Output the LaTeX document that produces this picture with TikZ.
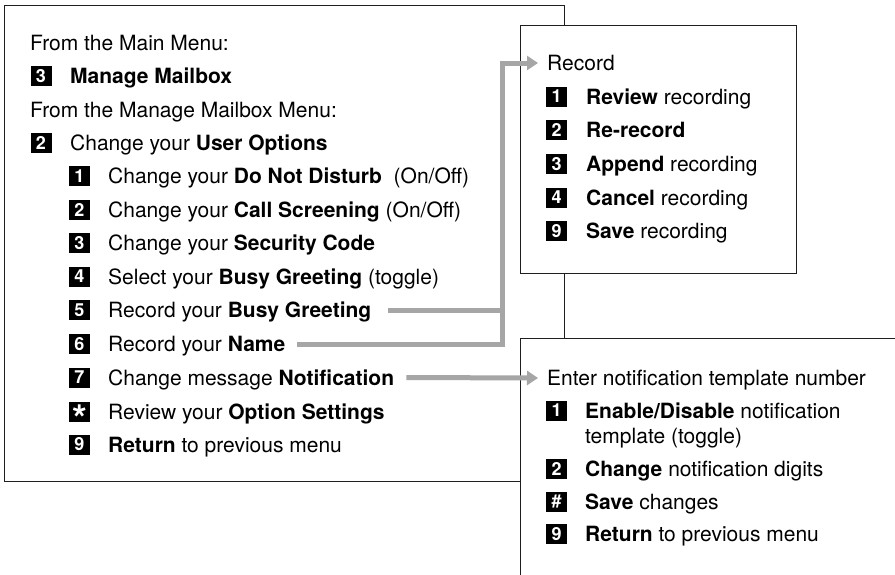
\documentclass[tikz,border=0pt]{standalone}
\usepackage{fontspec}
\setmainfont{TeX Gyre Heros}
\usetikzlibrary{arrows.meta}
\definecolor{conngray}{RGB}{166,166,166}
\definecolor{edge}{RGB}{30,30,30}
\begin{document}
\begin{tikzpicture}[x=1pt,y=-1pt,
  panel/.style={draw=edge, line width=1.3pt, fill=white, anchor=north west, inner sep=0pt},
  txt/.style={anchor=west, inner sep=0pt, text height=15pt, text depth=0pt, font=\fontsize{21}{24}\selectfont},
  key/.style={fill=black, text=white, minimum width=21pt, minimum height=20pt, inner sep=0pt, font=\fontsize{18}{18}\selectfont\bfseries},
  conn/.style={draw=conngray, line width=5pt, line join=miter},
  tip/.style={-{Triangle[length=11pt,width=14pt]}}
]
\useasboundingbox (0,0) rectangle (895,574);
\clip (0,0) rectangle (895,574);

% panels
\node[panel, minimum width=560pt, minimum height=476pt] (main) at (4,5) {};
\node[panel, minimum width=276pt, minimum height=248pt] (recbox) at (520,25) {};
\node[panel, minimum width=420pt, minimum height=300pt] (notbox) at (520,338) {};

% main menu
\node[txt] (h1) at (30,43) {From the Main Menu:};
\node[key] (k1) at (41,76) {3};
\node[txt] (mm) at (70,76) {\textbf{Manage Mailbox}};
\node[txt] (h2) at (30,109.5) {From the Manage Mailbox Menu:};
\node[key] (k2) at (41,142.5) {2};
\node[txt] (uo) at (70,142.5) {Change your \textbf{User Options}};

\node[key] (s1k) at (79.5,176) {1};
\node[txt] (m1) at (108,176) {Change your \textbf{Do Not Disturb}\ \ (On/Off)};
\node[key] (s2k) at (79.5,209.5) {2};
\node[txt] (m2) at (108,209.5) {Change your \textbf{Call Screening} (On/Off)};
\node[key] (s3k) at (79.5,243) {3};
\node[txt] (m3) at (108,243) {Change your \textbf{Security Code}};
\node[key] (s4k) at (79.5,276.5) {4};
\node[txt] (m4) at (108,276.5) {Select your \textbf{Busy Greeting} (toggle)};
\node[key] (s5k) at (79.5,310) {5};
\node[txt] (m5) at (108,310) {Record your \textbf{Busy Greeting}};
\node[key] (s6k) at (79.5,344) {6};
\node[txt] (m6) at (108,344) {Record your \textbf{Name}};
\node[key] (s7k) at (79.5,377.5) {7};
\node[txt] (m7) at (108,377.5) {Change message \textbf{Notification}};
\node[key] (s8k) at (79.5,411.5) {\raisebox{-21pt}[0pt][0pt]{\fontsize{38}{38}\selectfont *}};
\node[txt] (m8) at (108,411.5) {Review your \textbf{Option Settings}};
\node[key] (s9k) at (79.5,444.5) {9};
\node[txt] (m9) at (108,444.5) {\textbf{Return} to previous menu};

% record menu
\node[txt] (rec) at (547,63) {Record};
\node[key] (r1k) at (556.5,96.5) {1};
\node[txt] (r1) at (586,96.5) {\textbf{Review} recording};
\node[key] (r2k) at (556.5,130) {2};
\node[txt] (r2) at (586,130) {\textbf{Re-record}};
\node[key] (r3k) at (556.5,164) {3};
\node[txt] (r3) at (586,164) {\textbf{Append} recording};
\node[key] (r4k) at (556.5,197.5) {4};
\node[txt] (r4) at (586,197.5) {\textbf{Cancel} recording};
\node[key] (r9k) at (556.5,231) {9};
\node[txt] (r9) at (586,231) {\textbf{Save} recording};

% notification menu
\node[txt] (ent) at (547,378) {Enter notification template number};
\node[key] (n1k) at (556.5,410.5) {1};
\node[txt] (n1) at (585,410.5) {\textbf{Enable/Disable} notification};
\node[txt] (n1b) at (585,436) {template (toggle)};
\node[key] (n2k) at (556.5,469) {2};
\node[txt] (n2) at (585,469) {\textbf{Change} notification digits};
\node[key] (n3k) at (556.5,502) {\#};
\node[txt] (n3) at (585,502) {\textbf{Save} changes};
\node[key] (n9k) at (556.5,534) {9};
\node[txt] (n9) at (585,534) {\textbf{Return} to previous menu};

% connectors
\coordinate (bend) at (502,63);
\draw[conn, tip] ([xshift=12pt]m6.east) -| (bend) -- ([xshift=-9pt]rec.west);
\draw[conn] ([xshift=16pt]m5.east) -- (m5.east -| bend);
\draw[conn, tip] ([xshift=12pt]m7.east) -- ([xshift=-9pt]ent.west);
\end{tikzpicture}
\end{document}
